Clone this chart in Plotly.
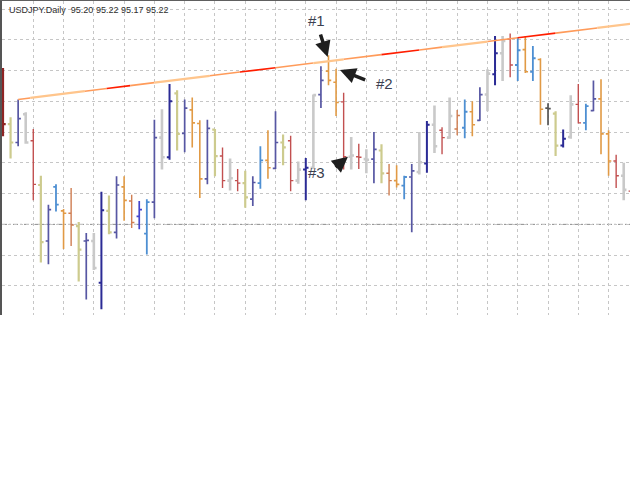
import plotly.graph_objects as go

# ---------------- data ----------------
bars = list(range(84))
opens = [96.60, 96.13, 95.83, 96.29, 95.86, 95.14, 94.23, 95.11, 94.72, 94.68,
         94.47, 94.23, 94.23, 93.55, 94.72, 94.37, 95.11, 94.88, 94.63, 94.35,
         94.86, 95.91, 95.59, 96.63, 95.98, 96.36, 96.14, 95.24, 96.04, 95.61,
         95.21, 95.21, 95.17, 94.91, 95.17, 95.54, 95.41, 95.83, 95.86, 95.21,
         95.39, 95.42, 96.61, 96.99, 96.81, 96.49, 95.60, 95.60, 95.56, 95.56,
         95.70, 95.33, 95.21, 95.13, 95.27, 95.35, 95.49, 96.12, 96.03, 95.91,
         96.05, 96.07, 96.33, 96.19, 96.61, 96.94, 97.28, 97.51, 97.09, 97.34,
         96.98, 97.18, 96.39, 96.30, 95.78, 95.92, 96.45, 96.15, 96.35, 96.54,
         95.97, 95.53, 95.29, 95.04]
highs = [97.04, 96.24, 96.53, 96.32, 96.05, 95.29, 94.82, 95.15, 94.75, 95.09,
         94.54, 94.36, 94.36, 95.03, 94.97, 95.28, 95.28, 94.98, 94.88, 94.91,
         96.20, 96.37, 96.78, 96.68, 96.53, 96.56, 96.19, 96.20, 96.05, 95.75,
         95.57, 95.40, 95.37, 95.28, 95.77, 96.03, 96.34, 95.96, 95.94, 95.52,
         95.58, 96.61, 97.07, 97.25, 97.03, 96.64, 95.92, 95.81, 95.72, 96.00,
         95.80, 95.48, 95.46, 95.29, 95.48, 96.00, 96.18, 96.43, 96.08, 96.56,
         96.36, 96.53, 96.50, 96.73, 97.02, 97.56, 97.56, 97.60, 97.54, 97.56,
         97.40, 97.20, 96.47, 96.34, 96.04, 96.60, 96.78, 96.46, 96.84, 96.86,
         96.03, 95.63, 95.50, 95.07]
lows = [95.93, 95.57, 95.77, 95.81, 94.89, 93.88, 93.85, 94.71, 94.10, 94.15,
        93.57, 93.28, 93.76, 93.12, 94.34, 94.27, 94.56, 94.44, 94.42, 94.01,
        94.60, 95.39, 95.55, 95.70, 95.67, 95.75, 94.93, 95.15, 95.28, 95.09,
        95.05, 95.04, 94.77, 94.80, 95.08, 95.24, 95.40, 95.46, 95.04, 95.16,
        94.89, 95.40, 96.39, 96.76, 96.26, 95.39, 95.39, 95.40, 95.33, 95.17,
        95.17, 94.97, 95.10, 94.91, 94.37, 95.31, 95.34, 95.66, 95.64, 95.89,
        95.95, 95.90, 95.93, 96.18, 96.34, 96.76, 96.83, 96.89, 96.83, 96.96,
        96.83, 96.12, 96.11, 95.61, 95.75, 95.89, 96.14, 96.03, 96.34, 95.64,
        95.29, 95.09, 94.89, 95.02]
closes = [96.13, 95.83, 96.22, 95.83, 95.15, 94.21, 94.74, 94.82, 94.68, 94.49,
          94.09, 94.24, 93.79, 94.73, 94.37, 95.14, 94.89, 94.53, 94.74, 94.86,
          95.91, 95.59, 96.50, 95.97, 96.39, 96.15, 95.24, 96.06, 95.61, 95.21,
          95.25, 95.17, 94.94, 95.18, 95.54, 95.42, 95.83, 95.75, 95.21, 95.39,
          95.42, 96.60, 96.84, 96.84, 96.48, 95.60, 95.62, 95.59, 95.55, 95.72,
          95.33, 95.21, 95.15, 95.27, 95.37, 95.51, 96.12, 95.77, 95.91, 96.26,
          96.27, 96.33, 96.12, 96.61, 96.95, 97.28, 97.48, 97.09, 97.33, 96.98,
          97.20, 96.37, 96.38, 95.78, 95.89, 96.45, 96.15, 96.42, 96.54, 95.97,
          95.53, 95.29, 95.06, 95.06]
bar_group = ["maroon", "khaki", "slate", "gray", "red", "khaki", "slate", "lightblue", "orange", "brown",
             "khaki", "slate", "gray", "navy", "khaki", "slate", "orange", "brown", "blue", "lightblue",
             "slate", "gray", "navy", "khaki", "slate", "orange", "orange", "slate", "khaki", "red",
             "gray", "red", "khaki", "slate", "lightblue", "orange", "slate", "khaki", "red", "gray",
             "navy", "gray", "slate", "orange", "orange", "red", "gray", "red", "gray", "slate",
             "khaki", "brown", "orange", "lightblue", "slate", "gray", "navy", "gray", "red", "gray",
             "brown", "lightblue", "orange", "slate", "gray", "navy", "gray", "red", "lightblue", "orange",
             "lightblue", "orange", "darkgray", "khaki", "navy", "gray", "red", "lightblue", "slate", "orange",
             "orange", "red", "gray", "red"]

title_text = "USDJPY.Daily  95.20 95.22 95.17 95.22"
trend_bars = [2, 84]
trend_prices = [96.53, 97.775]
hline_price = 94.5
labels = ["#1", "#2", "#3"]

# ---------------- styles ----------------
GROUP_STYLE = {
    "gray": ("#C9C9C9", 2.6),
    "khaki": ("#CDCB8E", 2.2),
    "slate": ("#5757A3", 1.7),
    "navy": ("#2B2B95", 2.0),
    "blue": ("#4545CC", 1.7),
    "lightblue": ("#4E8FD2", 1.8),
    "orange": ("#E19A45", 1.6),
    "brown": ("#CF7E52", 1.4),
    "red": ("#C25050", 1.4),
    "maroon": ("#8E2424", 2.2),
    "darkgray": ("#555555", 1.7),
}

fig = go.Figure()

for g, (col, w) in GROUP_STYLE.items():
    sel = [bar_group[i] == g for i in bars]
    fig.add_trace(go.Ohlc(
        x=bars,
        open=[opens[i] if sel[i] else None for i in bars],
        high=[highs[i] if sel[i] else None for i in bars],
        low=[lows[i] if sel[i] else None for i in bars],
        close=[closes[i] if sel[i] else None for i in bars],
        increasing=dict(line=dict(color=col, width=w)),
        decreasing=dict(line=dict(color=col, width=w)),
        tickwidth=0.36, hoverinfo="skip", showlegend=False,
    ))

# trend line drawn in coloured pieces
PEACH, ORANGE, RED = "#FFC58C", "#FF9B5A", "#FF1E00"
trend_segments = [(2, 3.6, ORANGE), (3.6, 10.8, PEACH), (10.8, 13.7, ORANGE), (13.7, 16.8, RED),
                  (16.8, 20, ORANGE), (20, 27.3, PEACH), (27.3, 31.3, ORANGE), (31.3, 36, RED),
                  (36, 41, ORANGE), (41, 45, PEACH), (45, 50, ORANGE), (50, 55, RED),
                  (55, 58, ORANGE), (58, 64, PEACH), (64, 68, ORANGE), (68, 73, RED),
                  (73, 78.5, ORANGE), (78.5, 84, PEACH)]


def trend_at(b):
    (b0, b1), (p0, p1) = trend_bars, trend_prices
    return p0 + (p1 - p0) * (b - b0) / (b1 - b0)


for a, b, col in trend_segments:
    fig.add_trace(go.Scatter(x=[a, b], y=[trend_at(a), trend_at(b)], mode="lines",
                             line=dict(color=col, width=2.3 if col == PEACH else 1.6),
                             hoverinfo="skip", showlegend=False))

grid = dict(showgrid=True, gridcolor="#C6C6C6", gridwidth=1, griddash="3px,3px",
            zeroline=False, showticklabels=False, ticks="")

fig.update_layout(
    width=630, height=484, autosize=False,
    margin=dict(l=2, r=0, t=1, b=169, pad=0),
    paper_bgcolor="white", plot_bgcolor="white",
    xaxis=dict(range=[-0.132, 82.83], tick0=0, dtick=4, side="top",
               showline=True, linecolor="#5F5F5F", linewidth=2,
               rangeslider=dict(visible=False), **grid),
    yaxis=dict(range=[93.027, 98.13], tick0=98, dtick=0.5,
               showline=True, linecolor="#555555", linewidth=2, **grid),
    font=dict(family="Liberation Sans, Arial, sans-serif"),
)

fig.add_shape(type="line", xref="paper", yref="y", x0=0, x1=1, y0=hline_price, y1=hline_price,
              line=dict(color="#8A8A8A", width=1, dash="5px,2px,2px,2px"), layer="below")

fig.add_annotation(xref="paper", yref="paper", x=0.008, y=0.971, xanchor="left", yanchor="middle",
                   text=title_text, showarrow=False,
                   font=dict(size=9, color="#2E2E2E", family="Liberation Sans, Arial"))

label_pos = [(41.35, 97.82), (50.46, 96.79), (41.35, 95.34)]
arrows = [((42.89, 97.22), (41.88, 97.61)), ((44.52, 97.01), (48.04, 96.84)), ((45.57, 95.60), (43.73, 95.41))]
for t, (lx, ly), ((tx, ty), (ax, ay)) in zip(labels, label_pos, arrows):
    fig.add_annotation(x=lx, y=ly, text=t, showarrow=False,
                       font=dict(size=15, color="#3B4050", family="Liberation Sans, Arial"))
    fig.add_annotation(x=tx, y=ty, ax=ax, ay=ay, axref="x", ayref="y", text="",
                       showarrow=True, arrowhead=2, arrowsize=0.9, arrowwidth=3.5,
                       arrowcolor="#1E1E1E", standoff=0)

fig.write_html("out.html", config={"displayModeBar": False, "staticPlot": True},
               post_script="document.body.style.margin='0px';")
